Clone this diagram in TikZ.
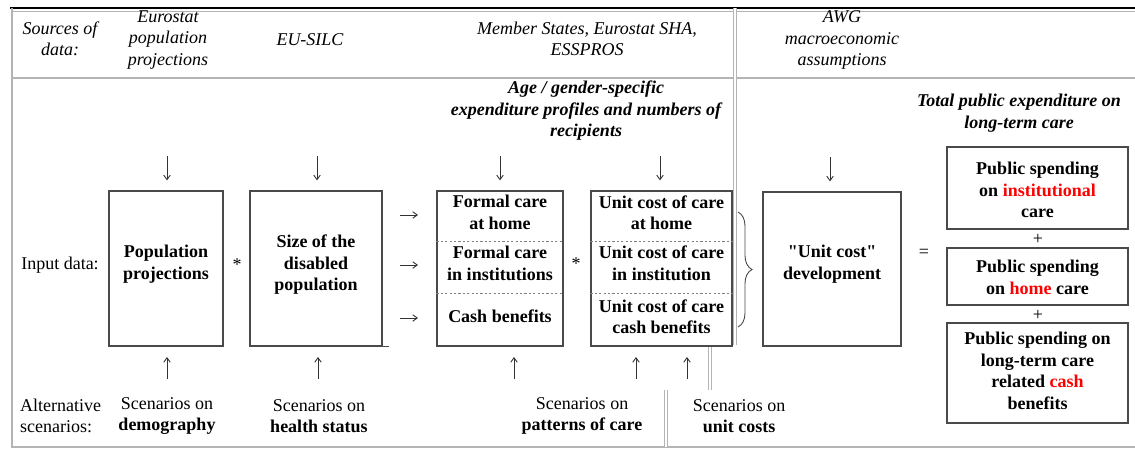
\documentclass[tikz,border=0pt]{standalone}
\usepackage{fontspec}
\setmainfont{Liberation Serif}
\newfontfamily\plainq{Liberation Serif}[Ligatures=TeXOff]
\usetikzlibrary{arrows.meta,decorations.pathreplacing}
\definecolor{boxc}{HTML}{4A4A4A}
\definecolor{sepc}{HTML}{B4B4B4}
\definecolor{arrc}{HTML}{333333}
\begin{document}
\begin{tikzpicture}[x=1pt,y=-1pt,
  every node/.style={font=\fontsize{18}{21.5}\selectfont, align=center, inner sep=0pt},
  box/.style={draw=boxc, line width=1.2pt, fill=none},
  src/.style={font=\fontsize{18}{21.5}\selectfont\itshape},
  head/.style={font=\fontsize{18}{21.5}\selectfont\bfseries\itshape},
  bt/.style={font=\fontsize{18}{21.5}\selectfont\bfseries},
  arr/.style={draw=arrc, line width=0.9pt, -{Straight Barb[length=4.5pt,width=6.5pt]}},
  sep/.style={draw=sepc, line width=1.3pt},
  dsep/.style={draw=sepc, line width=1pt, double=white, double distance=2pt},
  dsh/.style={draw=gray, line width=0.8pt, dash pattern=on 2.2pt off 2.2pt}]
\useasboundingbox (0,0) rectangle (1135,450);

% frame
\draw[black, line width=1.6pt] (10,8) -- (1135,8);
\draw[sepc, line width=0.8pt] (12,11) -- (1135,11);
\draw[sep] (12,8) -- (12,447) -- (1135,447);
\draw[sep] (12,78) -- (1135,78);
\draw[dsep] (734.5,8) -- (734.5,345);
\draw[dsep] (709.5,346) -- (709.5,390);
\draw[dsep] (665.5,390) -- (665.5,447);

% header texts
\node[src] (srcd) at (60,39) {Sources of\\data:};
\node[src] (eur) at (168,40) {Eurostat\\population\\projections};
\node[src] (silc) at (310,40) {EU-SILC};
\node[src] (ms) at (587,39) {Member States, Eurostat SHA,\\ESSPROS};
\node[src] (awg) at (842,40) {AWG\\macroeconomic\\assumptions};
\node[head] (age) at (586,111) {Age / gender-specific\\expenditure profiles and numbers of\\recipients};
\node[head] (tot) at (1019,113) {Total public expenditure on\\long-term care};

% boxes
\node[box, minimum width=114pt, minimum height=155pt] (pop) at (166,268.5) {};
\node[box, minimum width=132pt, minimum height=155pt] (dis) at (316,268.5) {};
\node[box, minimum width=126pt, minimum height=155pt] (formal) at (500,268.5) {};
\node[box, minimum width=141pt, minimum height=155pt] (unit) at (661.5,268.5) {};
\node[box, minimum width=138pt, minimum height=154pt] (ucd) at (832,269) {};
\node[box, minimum width=181pt, minimum height=82pt] (r1) at (1037.5,188) {};
\node[box, minimum width=181pt, minimum height=57pt] (r2) at (1037.5,276.5) {};
\node[box, minimum width=181pt, minimum height=100pt] (r3) at (1037.5,373) {};
\draw[boxc, line width=1.2pt] (dis.south east) -- ++(6,0);

% dashed separators
\draw[dsh] ([yshift=-51pt]formal.north west) -- ([yshift=-51pt]formal.north east);
\draw[dsh] ([yshift=-103pt]formal.north west) -- ([yshift=-103pt]formal.north east);
\draw[dsh] ([yshift=-51pt]unit.north west) -- ([yshift=-51pt]unit.north east);
\draw[dsh] ([yshift=-103pt]unit.north west) -- ([yshift=-103pt]unit.north east);

% box texts
\node (input) at (60,265) {Input data:};
\node[bt] (poptxt) at (166,264) {Population\\projections};
\node (star1) at (237,265) {*};
\node[bt] (distxt) at (316,265) {Size of the\\disabled\\population};
\node[bt] (f1) at (500,212.5) {Formal care\\at home};
\node[bt] (f2) at (500,263.5) {Formal care\\in institutions};
\node[bt] (f3) at (500,316) {Cash benefits};
\node (star2) at (576,264) {*};
\node[bt] (u1) at (661.5,212.5) {Unit cost of care\\at home};
\node[bt] (u2) at (661.5,263.5) {Unit cost of care\\in institution};
\node[bt] (u3) at (661.5,316.5) {Unit cost of care\\cash benefits};
\node[bt] (ucdtxt) at (832,264) {{\plainq\bfseries "Unit cost"}\\development};
\node (eq) at (924,253) {=};
\node[bt] (r1t) at (1037.5,190) {Public spending\\on \textcolor{red}{institutional}\\care};
\node (p1) at (1038,239) {+};
\node[bt] (r2t) at (1037.5,277.5) {Public spending\\on \textcolor{red}{home} care};
\node (p2) at (1038,315) {+};
\node[bt] (r3t) at (1037.5,371) {Public spending on\\long-term care\\related \textcolor{red}{cash}\\benefits};

% brace
\draw[boxc, line width=0.9pt, decorate, decoration={brace, amplitude=14pt, aspect=0.5}] (738,212) -- (738,327);

% down arrows
\draw[arr] ([xshift=1pt,yshift=34pt]pop.north) -- ([xshift=1pt,yshift=10pt]pop.north);
\draw[arr] ([xshift=1pt,yshift=34pt]dis.north) -- ([xshift=1pt,yshift=10pt]dis.north);
\draw[arr] ([yshift=34pt]formal.north) -- ([yshift=10pt]formal.north);
\draw[arr] ([xshift=-1.5pt,yshift=34pt]unit.north) -- ([xshift=-1.5pt,yshift=10pt]unit.north);
\draw[arr] ([xshift=-2pt,yshift=34pt]ucd.north) -- ([xshift=-2pt,yshift=10pt]ucd.north);

% right arrows
\coordinate (ra1) at (400,215); \coordinate (rb1) at (418,215);
\coordinate (ra2) at (400,265); \coordinate (rb2) at (418,265);
\coordinate (ra3) at (400,318); \coordinate (rb3) at (418,318);
\draw[arr] (ra1) -- (rb1);
\draw[arr] (ra2) -- (rb2);
\draw[arr] (ra3) -- (rb3);

% bottom texts
\node[anchor=west, align=left] (alt) at (20,416) {Alternative\\scenarios:};
\node (sc1) at (167,416) {Scenarios on\\\textbf{demography}};
\node (sc2) at (319,416) {Scenarios on\\\textbf{health status}};
\node (sc3) at (582,416) {Scenarios on\\\textbf{patterns of care}};
\node (sc4) at (739,416) {Scenarios on\\\textbf{unit costs}};

% up arrows
\coordinate (ua1) at (167,379); \coordinate (ub1) at (167,357);
\coordinate (ua2) at (318,379); \coordinate (ub2) at (318,357);
\coordinate (ua3) at (514,379); \coordinate (ub3) at (514,357);
\coordinate (ua4) at (636,379); \coordinate (ub4) at (636,357);
\coordinate (ua5) at (687,379); \coordinate (ub5) at (687,357);
\draw[arr] (ua1) -- (ub1);
\draw[arr] (ua2) -- (ub2);
\draw[arr] (ua3) -- (ub3);
\draw[arr] (ua4) -- (ub4);
\draw[arr] (ua5) -- (ub5);
\end{tikzpicture}
\end{document}
